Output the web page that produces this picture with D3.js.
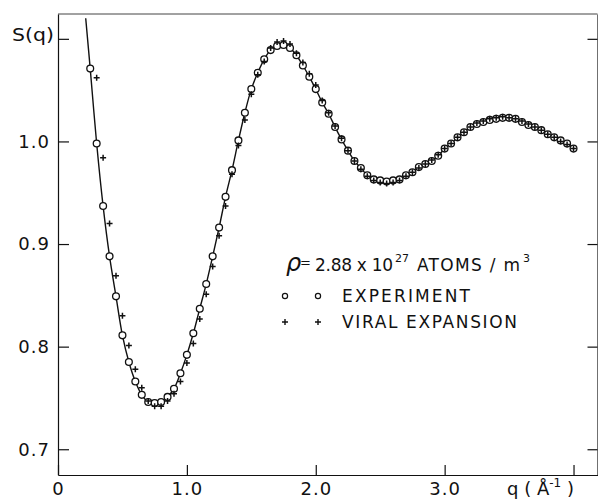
<!DOCTYPE html>
<html lang="en">
<head>
<meta charset="UTF-8">
<title>S(q) liquid structure factor</title>
<script src="https://cdn.jsdelivr.net/npm/d3@7"></script>
<style>
  body { margin: 0; background: #fff; }
  svg text { font-family: "DejaVu Sans", "Liberation Sans", sans-serif; fill: #111; }
  .axis path, .axis line { stroke: #111; stroke-width: 1.2; }
  .axis text { letter-spacing: 1px; }
</style>
</head>
<body>
<svg id="chart" width="598" height="500"></svg>
<script>
// experiment (open circles)
const qExp = [0.25, 0.30, 0.35, 0.40, 0.45, 0.50, 0.55, 0.60, 0.65, 0.70, 0.75, 0.80, 0.85, 0.90, 0.95,
  1.00, 1.05, 1.10, 1.15, 1.20, 1.25, 1.30, 1.35, 1.40, 1.45, 1.50, 1.55, 1.60, 1.65, 1.70, 1.75,
  1.80, 1.85, 1.90, 1.95, 2.00, 2.05, 2.10, 2.15, 2.20, 2.25, 2.30, 2.35, 2.40, 2.45, 2.50, 2.55,
  2.60, 2.65, 2.70, 2.75, 2.80, 2.85, 2.90, 2.95, 3.00, 3.05, 3.10, 3.15, 3.20, 3.25, 3.30, 3.35,
  3.40, 3.45, 3.50, 3.55, 3.60, 3.65, 3.70, 3.75, 3.80, 3.85, 3.90, 3.95, 4.00];
const sExp = [1.071, 0.998, 0.937, 0.888, 0.849, 0.811, 0.785, 0.766, 0.753, 0.746, 0.745, 0.746, 0.751, 0.759, 0.774,
  0.792, 0.813, 0.837, 0.861, 0.888, 0.916, 0.946, 0.972, 1.001, 1.028, 1.051, 1.067, 1.080, 1.089, 1.093, 1.094,
  1.091, 1.084, 1.074, 1.063, 1.051, 1.038, 1.027, 1.014, 1.002, 0.991, 0.981, 0.974, 0.967, 0.963, 0.962, 0.961,
  0.962, 0.963, 0.967, 0.970, 0.975, 0.978, 0.981, 0.986, 0.993, 0.998, 1.004, 1.009, 1.014, 1.017, 1.019, 1.021,
  1.022, 1.023, 1.023, 1.022, 1.019, 1.016, 1.014, 1.011, 1.007, 1.004, 1.001, 0.998, 0.993];

// viral expansion (plus signs)
const qVir = [0.30, 0.35, 0.40, 0.45, 0.50, 0.55, 0.60, 0.65, 0.70, 0.75, 0.80, 0.85, 0.90, 0.95,
  1.00, 1.05, 1.10, 1.15, 1.20, 1.25, 1.30, 1.35, 1.40, 1.45, 1.50, 1.55, 1.60, 1.65, 1.70, 1.75,
  1.80, 1.85, 1.90, 1.95, 2.00, 2.05, 2.10, 2.15, 2.20, 2.25, 2.30, 2.35, 2.40, 2.45, 2.50, 2.55,
  2.60, 2.65, 2.70, 2.75, 2.80, 2.85, 2.90, 2.95, 3.00, 3.05, 3.10, 3.15, 3.20, 3.25, 3.30, 3.35,
  3.40, 3.45, 3.50, 3.55, 3.60, 3.65, 3.70, 3.75, 3.80, 3.85, 3.90, 3.95, 4.00];
const sVir = [1.062, 0.984, 0.920, 0.869, 0.830, 0.801, 0.778, 0.760, 0.747, 0.742, 0.742, 0.747, 0.754, 0.766,
  0.784, 0.803, 0.827, 0.851, 0.878, 0.908, 0.937, 0.968, 0.996, 1.021, 1.046, 1.065, 1.078, 1.091, 1.097, 1.098,
  1.095, 1.086, 1.077, 1.066, 1.055, 1.040, 1.028, 1.015, 1.003, 0.991, 0.981, 0.973, 0.966, 0.962, 0.960, 0.959,
  0.960, 0.962, 0.966, 0.970, 0.974, 0.978, 0.982, 0.987, 0.993, 0.998, 1.004, 1.009, 1.014, 1.018, 1.020, 1.022,
  1.023, 1.024, 1.023, 1.022, 1.020, 1.017, 1.014, 1.011, 1.007, 1.004, 1.000, 0.997, 0.993];

// solid line: starts above the first circle, then runs through the experiment
const qLineStart = [0.215];
const sLineStart = [1.120];

const xTicks = [0, 1, 2, 3, 4];
const xTickLabels = ["0", "1.0", "2.0", "3.0", ""];
const yTicks = [0.7, 0.8, 0.9, 1.0, 1.1];
const yTickLabels = ["0.7", "0.8", "0.9", "1.0", ""];

const W = 598, H = 500;
const margin = { top: 14, right: 0.5, bottom: 25, left: 58 };

const svg = d3.select("#chart");

const x = d3.scaleLinear().domain([0, 4.186]).range([margin.left, W - margin.right]);
const y = d3.scaleLinear().domain([0.6749, 1.1242]).range([H - margin.bottom, margin.top]);

const expData = qExp.map((q, i) => ({ q: q, s: sExp[i] }));
const virData = qVir.map((q, i) => ({ q: q, s: sVir[i] }));
const lineData = qLineStart.map((q, i) => ({ q: q, s: sLineStart[i] })).concat(expData);

// frame
svg.append("line")
  .attr("x1", x(0)).attr("x2", W - margin.right)
  .attr("y1", margin.top).attr("y2", margin.top)
  .attr("stroke", "#444").attr("stroke-width", 1);

// axes, ticks pointing inward
const gx = svg.append("g").attr("class", "axis")
  .attr("transform", `translate(0,${H - margin.bottom})`)
  .call(d3.axisBottom(x).tickValues(xTicks).tickSizeInner(-10).tickSizeOuter(0).tickPadding(7)
    .tickFormat((d, i) => xTickLabels[i]));
gx.selectAll("text").attr("font-size", 18);

const gy = svg.append("g").attr("class", "axis")
  .attr("transform", `translate(${margin.left},0)`)
  .call(d3.axisLeft(y).tickValues(yTicks).tickSizeInner(-11).tickSizeOuter(0).tickPadding(8)
    .tickFormat((d, i) => yTickLabels[i]));
gy.selectAll("text").attr("font-size", 18);

const gr = svg.append("g").attr("class", "axis")
  .attr("transform", `translate(${W - margin.right},0)`)
  .call(d3.axisRight(y).tickValues(yTicks).tickSizeInner(-10).tickSizeOuter(0).tickFormat(""));
gr.select(".domain").attr("stroke", "#aaa");

// axis titles
svg.append("text")
  .attr("x", 54).attr("y", 41)
  .attr("text-anchor", "end")
  .attr("font-size", 18)
  .attr("textLength", 42).attr("lengthAdjust", "spacingAndGlyphs")
  .text("S(q)");

const qt = svg.append("text")
  .attr("x", 507).attr("y", 495)
  .attr("font-size", 18);
qt.append("tspan").text("q ( Å");
qt.append("tspan").attr("dy", -8).attr("font-size", 12).text("-1");
qt.append("tspan").attr("dy", 8).text(" )");

// fitted curve
svg.append("path")
  .datum(lineData)
  .attr("fill", "none")
  .attr("stroke", "#111")
  .attr("stroke-width", 1.4)
  .attr("d", d3.line().x(d => x(d.q)).y(d => y(d.s)).curve(d3.curveCatmullRom));

// experiment points
svg.selectAll(".exp")
  .data(expData)
  .enter()
  .append("circle")
  .attr("class", "exp")
  .attr("cx", d => x(d.q))
  .attr("cy", d => y(d.s))
  .attr("r", 3.4)
  .attr("fill", "#fff")
  .attr("stroke", "#111")
  .attr("stroke-width", 1.3);

// viral expansion points
const plus = (px, py, r) => `M${px - r},${py}H${px + r}M${px},${py - r}V${py + r}`;
svg.selectAll(".vir")
  .data(virData)
  .enter()
  .append("path")
  .attr("class", "vir")
  .attr("d", d => plus(x(d.q), y(d.s), 3))
  .attr("stroke", "#111")
  .attr("stroke-width", 1.5);

// legend
svg.append("text").attr("x", 286).attr("y", 271).attr("font-size", 24)
  .attr("font-style", "italic").text("ρ");
svg.append("text").attr("x", 300).attr("y", 267).attr("font-size", 13).text("=");
svg.append("text").attr("x", 315).attr("y", 271).attr("font-size", 17)
  .attr("textLength", 78).attr("lengthAdjust", "spacing").text("2.88 x 10");
svg.append("text").attr("x", 395).attr("y", 262).attr("font-size", 11).text("27");
svg.append("text").attr("x", 417).attr("y", 271).attr("font-size", 17)
  .attr("textLength", 103).attr("lengthAdjust", "spacing").text("ATOMS / m");
svg.append("text").attr("x", 523).attr("y", 262).attr("font-size", 11).text("3");

svg.append("circle").attr("cx", 285).attr("cy", 296).attr("r", 2.6)
  .attr("fill", "#fff").attr("stroke", "#111").attr("stroke-width", 1.2);
svg.append("circle").attr("cx", 318).attr("cy", 296).attr("r", 2.6)
  .attr("fill", "#fff").attr("stroke", "#111").attr("stroke-width", 1.2);
svg.append("text").attr("x", 342).attr("y", 302).attr("font-size", 17)
  .attr("textLength", 128).attr("lengthAdjust", "spacing").text("EXPERIMENT");

svg.append("path").attr("d", plus(285, 322, 3)).attr("stroke", "#111").attr("stroke-width", 1.4);
svg.append("path").attr("d", plus(318, 322, 3)).attr("stroke", "#111").attr("stroke-width", 1.4);
svg.append("text").attr("x", 342).attr("y", 328).attr("font-size", 17)
  .attr("textLength", 175).attr("lengthAdjust", "spacing").text("VIRAL  EXPANSION");
</script>
</body>
</html>
